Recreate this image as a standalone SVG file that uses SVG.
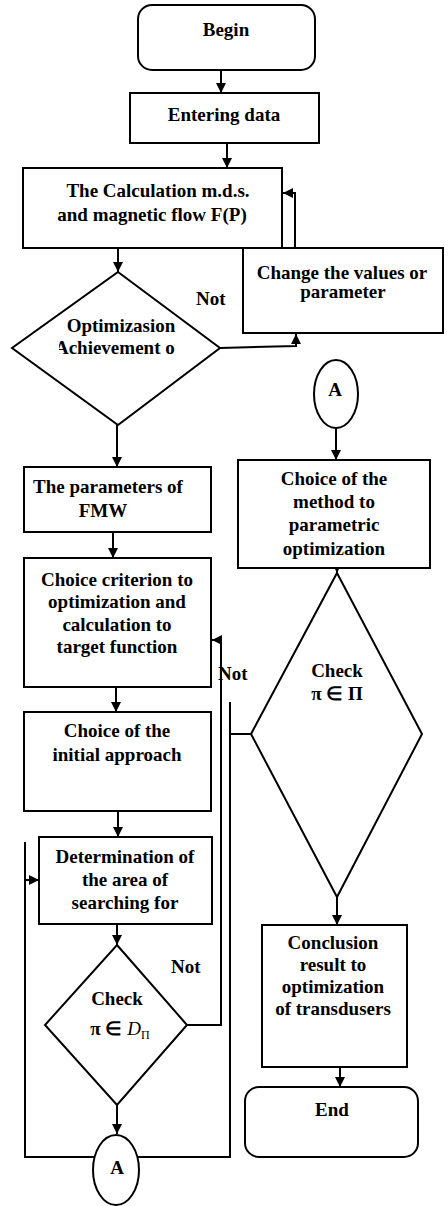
<svg xmlns="http://www.w3.org/2000/svg" width="448" height="1206" viewBox="0 0 448 1206">
<defs>
<marker id="arr" viewBox="0 0 10 10" refX="10" refY="5" markerWidth="10" markerHeight="10" markerUnits="userSpaceOnUse" orient="auto">
<path d="M0,0 L10,5 L0,10 z" fill="#000"/>
</marker>
<clipPath id="clipOpt"><rect x="59" y="338" width="116" height="24"/></clipPath>
</defs>
<style>
.n{fill:#fff;stroke:#000;stroke-width:2}
.c{fill:none;stroke:#000;stroke-width:2}
.t{font-family:"Liberation Serif","Times New Roman",serif;font-weight:bold;font-size:19px;fill:#000;text-anchor:middle}
.l{font-family:"Liberation Serif","Times New Roman",serif;font-weight:bold;font-size:19px;fill:#000}
</style>
<rect width="448" height="1206" fill="#fff"/>
<g id="connectors">
<path class="c" d="M221,70 L221,93" marker-end="url(#arr)"/>
<path class="c" d="M227,143 L227,168" marker-end="url(#arr)"/>
<path class="c" d="M118,248 L118,272" marker-end="url(#arr)"/>
<path class="c" d="M220,348 L296,346 L296,334" marker-end="url(#arr)"/>
<path class="c" d="M295,248 L295,193 L283,193" marker-end="url(#arr)"/>
<path class="c" d="M117,425 L117,467" marker-end="url(#arr)"/>
<path class="c" d="M113,532 L113,558" marker-end="url(#arr)"/>
<path class="c" d="M116,687 L116,712" marker-end="url(#arr)"/>
<path class="c" d="M118,811 L118,837" marker-end="url(#arr)"/>
<path class="c" d="M117,924 L117,945" marker-end="url(#arr)"/>
<path class="c" d="M187,1025 L221,1025 L221,640 L212,640" marker-end="url(#arr)"/>
<path class="c" d="M117,1105 L117,1134" marker-end="url(#arr)"/>
<path class="c" d="M336,428 L336,460" marker-end="url(#arr)"/>
<path class="c" d="M337,555 L337,573" marker-end="url(#arr)"/>
<path class="c" d="M251,734 L230,734"/>
<path class="c" d="M230,702 L230,1157 L25,1157 L25,842"/>
<path class="c" d="M25,880 L39,880" marker-end="url(#arr)"/>
<path class="c" d="M337,897 L337,925" marker-end="url(#arr)"/>
<path class="c" d="M340,1067 L340,1087" marker-end="url(#arr)"/>
<text class="l" x="196" y="305">Not</text>
<text class="l" x="218" y="680">Not</text>
<text class="l" x="171" y="973">Not</text>
</g>
<g id="begin">
<rect class="n" x="138" y="5" width="177" height="65" rx="14"/>
<text class="t" x="226" y="36">Begin</text>
</g>
<g id="entering">
<rect class="n" x="130" y="93" width="189" height="50"/>
<text class="t" x="224" y="121">Entering data</text>
</g>
<g id="calc">
<rect class="n" x="23" y="168" width="259" height="80"/>
<text class="t" x="158" y="197">The Calculation m.d.s.</text>
<text class="t" x="152" y="221">and magnetic flow F(P)</text>
</g>
<g id="change">
<rect class="n" x="243" y="248" width="200" height="85"/>
<text class="t" x="342" y="279">Change the values or</text>
<text class="t" x="343" y="298">parameter</text>
</g>
<g id="opt">
<polygon class="n" points="118,272 220,348 118,425 12,348"/>
<text class="t" x="121" y="332">Optimizasion</text>
<text class="t" x="118" y="354" clip-path="url(#clipOpt)">Achievement of</text>
</g>
<g id="params">
<rect class="n" x="24" y="467" width="187" height="65"/>
<text class="l" x="33" y="493">The parameters of</text>
<text class="t" x="103" y="517">FMW</text>
</g>
<g id="criterion">
<rect class="n" x="24" y="558" width="187" height="129"/>
<text class="t" x="117" y="586">Choice criterion to</text>
<text class="t" x="117" y="608">optimization and</text>
<text class="t" x="117" y="631">calculation to</text>
<text class="t" x="117" y="653">target function</text>
</g>
<g id="initial">
<rect class="n" x="24" y="712" width="187" height="99"/>
<text class="t" x="117" y="737">Choice of the</text>
<text class="t" x="117" y="761">initial approach</text>
</g>
<g id="determination">
<rect class="n" x="39" y="837" width="173" height="87"/>
<text class="t" x="125" y="863">Determination of</text>
<text class="t" x="125" y="886">the area of</text>
<text class="t" x="125" y="909">searching for</text>
</g>
<g id="check-d">
<polygon class="n" points="117,945 187,1025 117,1105 45,1025"/>
<text class="t" x="117" y="1005">Check</text>
<text class="t" x="120" y="1035">π ∈ <tspan font-style="italic" font-weight="normal">D</tspan><tspan font-size="12" font-weight="normal" dy="4">Π</tspan></text>
</g>
<g id="a-bottom">
<ellipse class="n" cx="116" cy="1170" rx="23" ry="35"/>
<text class="t" x="117" y="1174">A</text>
</g>
<g id="a-top">
<ellipse class="n" cx="336" cy="394" rx="22" ry="34"/>
<text class="t" x="335" y="396">A</text>
</g>
<g id="method">
<rect class="n" x="238" y="460" width="192" height="108"/>
<text class="t" x="334" y="485">Choice of the</text>
<text class="t" x="334" y="508">method to</text>
<text class="t" x="334" y="531">parametric</text>
<text class="t" x="334" y="555">optimization</text>
</g>
<g id="check-p">
<polygon class="n" points="337,573 422,734 337,897 251,734"/>
<text class="t" x="337" y="677">Check</text>
<text class="t" x="337" y="700">π ∈ Π</text>
</g>
<g id="conclusion">
<rect class="n" x="262" y="925" width="145" height="142"/>
<text class="t" x="333" y="949">Conclusion</text>
<text class="t" x="333" y="971">result to</text>
<text class="t" x="333" y="993">optimization</text>
<text class="t" x="333" y="1015">of transdusers</text>
</g>
<g id="end">
<rect class="n" x="245" y="1087" width="173" height="70" rx="14"/>
<text class="t" x="332" y="1116">End</text>
</g>
</svg>
